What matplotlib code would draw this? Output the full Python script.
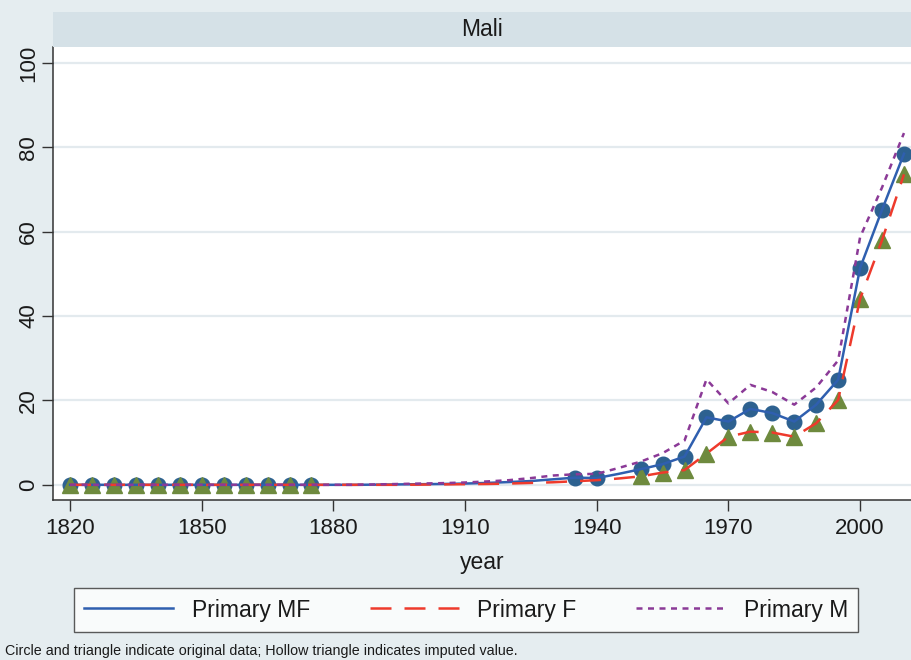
import matplotlib
matplotlib.use("Agg")
import matplotlib.pyplot as plt
from matplotlib.lines import Line2D
from matplotlib.patches import Rectangle

plt.rcParams['font.family'] = ['Liberation Sans', 'DejaVu Sans']

country = "Mali"

# Series along the full year grid (lines)
years = [1820, 1825, 1830, 1835, 1840, 1845, 1850, 1855, 1860, 1865, 1870, 1875,
         1880, 1885, 1890, 1895, 1900, 1905, 1910, 1915, 1920, 1925, 1930,
         1935, 1940, 1945, 1950, 1955, 1960, 1965, 1970, 1975, 1980, 1985,
         1990, 1995, 2000, 2005, 2010]
primary_mf = [0, 0, 0, 0, 0, 0, 0, 0, 0, 0, 0, 0,
              0, 0, 0.05, 0.1, 0.15, 0.2, 0.3, 0.45, 0.65, 0.9, 1.3,
              1.7, 1.6, 2.6, 3.7, 4.9, 6.7, 16.0, 15.0, 18.0, 17.0, 15.0,
              19.0, 24.9, 51.4, 65.2, 78.5]
primary_f = [0, 0, 0, 0, 0, 0, 0, 0, 0, 0, 0, 0,
             0, 0, 0, 0, 0.05, 0.1, 0.15, 0.2, 0.3, 0.45, 0.6,
             0.85, 1.1, 1.5, 2.0, 2.9, 3.5, 7.4, 11.4, 12.6, 12.4, 11.4,
             14.6, 20.1, 44.1, 58.0, 73.6]
primary_m = [0, 0, 0, 0, 0, 0, 0, 0, 0, 0, 0, 0,
             0, 0, 0.1, 0.2, 0.3, 0.4, 0.55, 0.8, 1.1, 1.6, 2.2,
             2.5, 2.6, 4.0, 5.5, 7.5, 10.5, 25.0, 19.3, 23.7, 22.0, 19.0,
             23.1, 29.5, 58.7, 70.5, 83.4]

# Years with original observations (markers)
mf_obs_years = [1820, 1825, 1830, 1835, 1840, 1845, 1850, 1855, 1860, 1865, 1870, 1875,
                1935, 1940, 1950, 1955, 1960, 1965, 1970, 1975, 1980, 1985,
                1990, 1995, 2000, 2005, 2010]
f_obs_years = [1820, 1825, 1830, 1835, 1840, 1845, 1850, 1855, 1860, 1865, 1870, 1875,
               1950, 1955, 1960, 1965, 1970, 1975, 1980, 1985,
               1990, 1995, 2000, 2005, 2010]

x_ticks = [1820, 1850, 1880, 1910, 1940, 1970, 2000]
y_ticks = [0, 20, 40, 60, 80, 100]
legend_labels = ["Primary MF", "Primary F", "Primary M"]
note = "Circle and triangle indicate original data; Hollow triangle indicates imputed value."

BG = '#e5edf0'
STRIP = '#d5e1e7'
GRID = '#e3eaee'
C_MF = '#2f5faf'
C_F = '#ee3a2c'
C_M = '#8b3a97'
C_CIRC = '#2d6190'
C_TRI = '#6e8a3e'
DASH_F = (8.4, 5.2)
DASH_M = (2.4, 2.2)

fig = plt.figure(figsize=(9.11, 6.60), dpi=100)
fig.patch.set_facecolor(BG)

W, H = 911.0, 660.0
ax = fig.add_axes([53 / W, 1 - 500 / H, (911 - 53) / W, (500 - 47) / H])
ax.set_facecolor('white')

# Title strip
fig.patches.append(Rectangle((53 / W, 1 - 47 / H), (911 - 53) / W, 35 / H,
                             transform=fig.transFigure, facecolor=STRIP,
                             edgecolor='none', zorder=0))
fig.text((53 + 911) / 2 / W, 1 - 30 / H, country, ha='center', va='center',
         fontsize=16.5, color='#1a1a1a')

for yv in y_ticks:
    ax.axhline(yv, color=GRID, lw=1.6, zorder=0)

mf_map = dict(zip(years, primary_mf))
f_map = dict(zip(years, primary_f))

ax.plot(mf_obs_years, [mf_map[y] for y in mf_obs_years], linestyle='none',
        marker='o', markersize=10.5, color=C_CIRC, zorder=2)
ax.plot(f_obs_years, [f_map[y] for y in f_obs_years], linestyle='none',
        marker='^', markersize=11.5, color=C_TRI, zorder=3)

ax.plot(years, primary_mf, color=C_MF, lw=1.8, zorder=4)
ax.plot(years, primary_f, color=C_F, lw=1.8, dashes=DASH_F, zorder=4)
ax.plot(years, primary_m, color=C_M, lw=1.8, dashes=DASH_M, zorder=4)

ax.set_xlim(1816.1, 2011.6)
ax.set_ylim(-3.6, 103.8)
ax.set_xticks(x_ticks)
ax.set_yticks(y_ticks)
ax.tick_params(axis='both', direction='out', length=8, width=1, color='#333333',
               labelsize=16, labelcolor='#1a1a1a')
ax.tick_params(axis='x', pad=5)
ax.tick_params(axis='y', pad=2)
for lab in ax.get_yticklabels():
    lab.set_rotation(90)
    lab.set_va('center')
ax.spines['top'].set_visible(False)
ax.spines['right'].set_visible(False)
for s in ('left', 'bottom'):
    ax.spines[s].set_color('#333333')
    ax.spines[s].set_linewidth(1.1)

fig.text((53 + 911) / 2 / W, 1 - 563 / H, "year", ha='center', va='center',
         fontsize=16.5, color='#1a1a1a')

handles = [Line2D([], [], color=C_MF, lw=1.8),
           Line2D([], [], color=C_F, lw=1.8, dashes=DASH_F),
           Line2D([], [], color=C_M, lw=1.8, dashes=DASH_M)]
leg = fig.legend(handles, legend_labels, loc='center',
                 bbox_to_anchor=(466 / W, 1 - 610 / H), ncol=3, frameon=True,
                 fontsize=16.5, handlelength=3.9, columnspacing=2.6,
                 handletextpad=0.8, borderpad=0.45, borderaxespad=0,
                 fancybox=False)
leg.get_frame().set_edgecolor('#333333')
leg.get_frame().set_linewidth(1.0)
leg.get_frame().set_facecolor('white')
for t in leg.get_texts():
    t.set_color('#1a1a1a')

fig.text(5 / W, 1 - 651 / H, note, ha='left', va='center', fontsize=10.3,
         color='#1a1a1a')

fig.savefig('out.png', dpi=100, facecolor=BG)
